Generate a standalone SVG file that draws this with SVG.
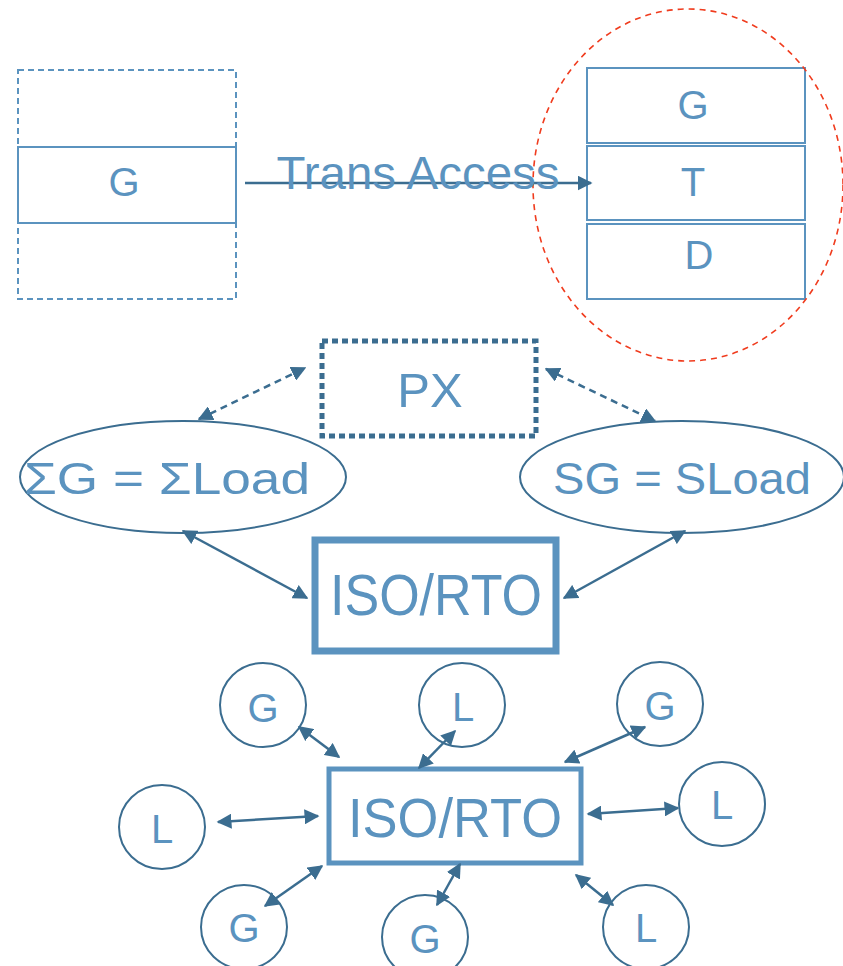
<svg xmlns="http://www.w3.org/2000/svg" width="843" height="966" viewBox="0 0 843 966">
<defs>
<style>
.t{font-family:"Liberation Sans",Arial,sans-serif;fill:#5b93bf;text-anchor:middle}
.box{fill:#fff;stroke:#5b93bf;stroke-width:2}
.dbox{fill:none;stroke:#5b93bf;stroke-width:2;stroke-dasharray:6 4}
.ell{fill:#fff;stroke:#3b6d90;stroke-width:2}
.ar{fill:none;stroke:#3b6d90;stroke-width:2.5;marker-end:url(#ah);marker-start:url(#ah)}
</style>
<marker id="ah" viewBox="0 0 10 10" refX="9" refY="5" markerWidth="6" markerHeight="6" orient="auto-start-reverse" markerUnits="strokeWidth">
<path d="M0,0 L10,5 L0,10 z" fill="#3b6d90"/>
</marker>
</defs>
<g id="left-stack">
<rect class="dbox" x="18" y="70" width="218" height="229"/>
<rect class="box" x="18" y="147" width="218" height="76"/>
<text class="t" x="124" y="196" font-size="40">G</text>
</g>
<g id="right-stack">
<rect class="box" x="587" y="68" width="218" height="75"/>
<text class="t" x="693" y="119" font-size="40">G</text>
<rect class="box" x="587" y="146" width="218" height="74"/>
<text class="t" x="693" y="196" font-size="40">T</text>
<rect class="box" x="587" y="224" width="218" height="75"/>
<text class="t" x="699" y="269" font-size="40">D</text>
</g>
<g id="highlight">
<ellipse cx="688" cy="185" rx="155" ry="176" fill="none" stroke="#f03c1e" stroke-width="1.6" stroke-dasharray="6 5"/>
</g>
<g id="px">
<rect x="322" y="341" width="214" height="95" fill="none" stroke="#3b6d90" stroke-width="5" stroke-dasharray="6 4"/>
<text class="t" x="430" y="407" font-size="49">PX</text>
</g>
<g id="sum-balance">
<ellipse class="ell" cx="183" cy="477" rx="163" ry="56"/>
<text class="t" x="167" y="494" font-size="44" textLength="286" lengthAdjust="spacingAndGlyphs">ΣG = ΣLoad</text>
</g>
<g id="s-balance">
<ellipse class="ell" cx="682" cy="477" rx="162" ry="56"/>
<text class="t" x="682" y="494" font-size="44" textLength="258" lengthAdjust="spacingAndGlyphs">SG = SLoad</text>
</g>
<g id="iso-rto-1">
<rect x="315" y="540" width="241" height="111" fill="#fff" stroke="#5b93bf" stroke-width="7"/>
<text class="t" x="436" y="615" font-size="57" textLength="212" lengthAdjust="spacingAndGlyphs">ISO/RTO</text>
</g>
<g id="iso-rto-2">
<rect x="329" y="769" width="252" height="94" fill="#fff" stroke="#5b93bf" stroke-width="5"/>
<text class="t" x="455" y="837" font-size="56" textLength="214" lengthAdjust="spacingAndGlyphs">ISO/RTO</text>
</g>
<g id="g1"><ellipse class="ell" cx="263" cy="705" rx="43" ry="42"/><text class="t" x="263" y="722" font-size="40">G</text></g>
<g id="l1"><ellipse class="ell" cx="462" cy="705" rx="43" ry="42"/><text class="t" x="463" y="721" font-size="40">L</text></g>
<g id="g2"><ellipse class="ell" cx="660" cy="704" rx="43" ry="42"/><text class="t" x="660" y="720" font-size="40">G</text></g>
<g id="l2"><ellipse class="ell" cx="162" cy="827" rx="43" ry="42"/><text class="t" x="162" y="843" font-size="40">L</text></g>
<g id="l3"><ellipse class="ell" cx="722" cy="804" rx="43" ry="42"/><text class="t" x="722" y="819" font-size="40">L</text></g>
<g id="g3"><ellipse class="ell" cx="244" cy="927" rx="43" ry="42"/><text class="t" x="244" y="942" font-size="40">G</text></g>
<g id="g4"><ellipse class="ell" cx="425" cy="937" rx="43" ry="42"/><text class="t" x="425" y="953" font-size="40">G</text></g>
<g id="l4"><ellipse class="ell" cx="646" cy="927" rx="43" ry="42"/><text class="t" x="646" y="942" font-size="40">L</text></g>
<g id="connectors">
<line x1="245" y1="183" x2="591" y2="183" stroke="#3b6d90" stroke-width="2.5" marker-end="url(#ah)"/>
<line class="ar" x1="199" y1="419" x2="305" y2="368" stroke-dasharray="7 5"/>
<line class="ar" x1="546" y1="369" x2="655" y2="421" stroke-dasharray="7 5"/>
<line class="ar" x1="183" y1="531" x2="307" y2="598"/>
<line class="ar" x1="685" y1="531" x2="564" y2="598"/>
<line class="ar" x1="299" y1="727" x2="339" y2="757"/>
<line class="ar" x1="455" y1="731" x2="419" y2="768"/>
<line class="ar" x1="645" y1="727" x2="565" y2="762"/>
<line class="ar" x1="218" y1="822" x2="318" y2="816"/>
<line class="ar" x1="588" y1="814" x2="678" y2="808"/>
<line class="ar" x1="265" y1="906" x2="322" y2="866"/>
<line class="ar" x1="437" y1="905" x2="460" y2="864"/>
<line class="ar" x1="576" y1="875" x2="613" y2="905"/>
</g>
<text class="t" x="418" y="189" font-size="46" textLength="283" lengthAdjust="spacingAndGlyphs">Trans Access</text>
</svg>
